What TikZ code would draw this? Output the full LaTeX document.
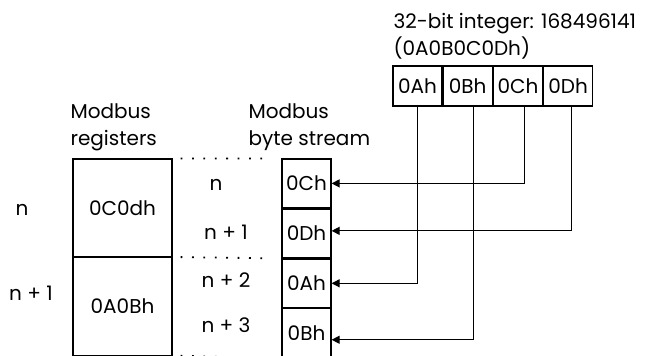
\documentclass[tikz,border=0pt]{standalone}
\usepackage{fontspec}
\setmainfont{Poppins}
\usetikzlibrary{arrows.meta,positioning}

\begin{document}
\begin{tikzpicture}[x=1pt,y=-1pt,line width=1.2pt,
  font=\fontsize{20}{27}\selectfont,
  regbox/.style={draw,minimum width=99pt,minimum height=97.5pt,inner sep=0pt},
  bytebox/.style={draw,minimum width=49pt,minimum height=48.75pt,inner sep=0pt},
  topbox/.style={draw,minimum width=49pt,minimum height=40pt,inner sep=0pt},
  txt/.style={inner sep=0pt},
  feed/.style={-{Triangle[length=8pt,width=8pt]}},
  dotline/.style={line width=1.8pt,dash pattern=on 1.8pt off 9.6pt}]
\useasboundingbox (0,0) rectangle (648,356);
% integer and its bytes
\node[txt,anchor=base west,align=left] (title) at (393,55) {32-bit integer: 168496141\\(0A0B0C0Dh)};
\node[topbox] (bA) at (417.5,86) {0Ah};
\node[topbox,right=0pt of bA] (bB) {0Bh};
\node[topbox,right=0pt of bB] (bC) {0Ch};
\node[topbox,right=0pt of bC] (bD) {0Dh};
% registers
\node[txt,anchor=base west,align=left] (hreg) at (70,145) {Modbus\\registers};
\node[regbox] (r0) at (122.5,207.75) {0C0dh};
\node[regbox,below=0pt of r0] (r1) {0A0Bh};
\node[txt] (ln0) at (22,210) {n};
\node[txt] (ln1) at (31,293) {n + 1};
% byte stream
\node[txt,anchor=base west,align=left] (hbyte) at (248,145) {Modbus\\byte stream};
\node[bytebox] (s0) at (306.5,183.4) {0Ch};
\node[bytebox,below=0pt of s0] (s1) {0Dh};
\node[bytebox,below=0pt of s1] (s2) {0Ah};
\node[bytebox,below=0pt of s2] (s3) {0Bh};
\node[txt] (mn0) at (216,185) {n};
\node[txt] (mn1) at (226,232) {n + 1};
\node[txt] (mn2) at (226,280) {n + 2};
\node[txt] (mn3) at (226,325) {n + 3};
\draw[dotline] ([xshift=8pt]r0.north east) -- ([xshift=-10pt]s0.north west);
\draw[dotline] ([xshift=8pt]r1.north east) -- ([xshift=-10pt]s2.north west);
\draw[dotline] ([xshift=8pt]r1.south east) -- ([xshift=-10pt]s3.south west);
% byte order
\draw[feed] ([xshift=6.5pt]bC.south) |- (s0.east);
\draw[feed] ([xshift=3pt]bD.south) |- ([yshift=2.5pt]s1.east);
\draw[feed] (bA.south) |- (s2.east);
\draw[feed] ([xshift=6pt]bB.south) |- ([yshift=-6.5pt]s3.east);
\end{tikzpicture}
\end{document}
